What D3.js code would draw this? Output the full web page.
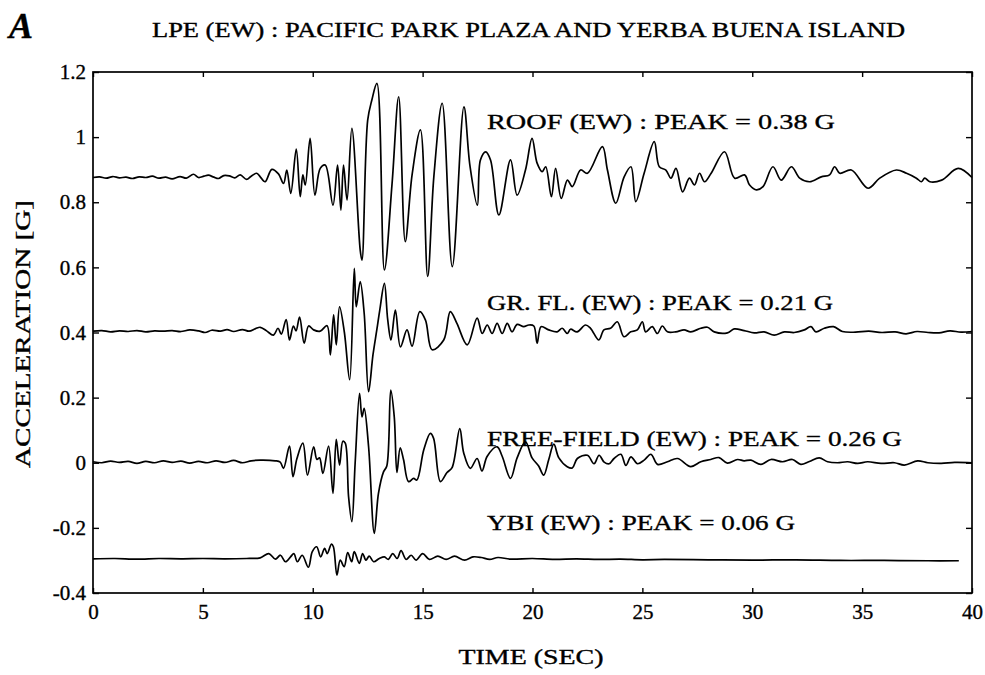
<!DOCTYPE html>
<html>
<head>
<meta charset="utf-8">
<script src="https://cdn.jsdelivr.net/npm/d3@7"></script>
<style>
  body { margin: 0; background: #fff; }
  svg { font-family: "Liberation Serif", "Times New Roman", serif; }
  svg text { stroke: #000; stroke-width: 0.35px; }
</style>
</head>
<body>
<div id="chart-area"></div>
<script>
// time (s), acceleration (G), each trace drawn at its own offset
const roof = [
  [0,0.876],[0.3,0.878],[0.6,0.874],[0.9,0.879],[1.2,0.875],[1.5,0.877],[1.8,0.873],[2.1,0.878],
  [2.4,0.876],[2.7,0.880],[3.0,0.874],[3.3,0.877],[3.6,0.872],[3.96,0.879],[4.25,0.874],[4.57,0.886],
  [4.8,0.876],[5.05,0.880],[5.25,0.883],[5.5,0.877],[5.71,0.873],[5.95,0.882],[6.2,0.881],[6.45,0.875],
  [6.7,0.884],[6.99,0.870],[7.2,0.880],[7.45,0.889],[7.61,0.878],[7.83,0.863],[8.14,0.901],[8.44,0.887],
  [8.67,0.858],[8.82,0.899],[9.0,0.827],[9.25,0.963],[9.43,0.817],[9.55,0.884],[9.66,0.853],[9.88,0.996],
  [10.1,0.822],[10.34,0.904],[10.57,0.914],[10.92,0.791],[11.13,0.914],[11.28,0.776],[11.4,0.914],[11.56,0.807],
  [11.78,1.027],[12.16,0.653],[12.24,0.622],[12.5,1.052],[12.69,1.114],[12.92,1.165],[13.26,0.592],[13.61,0.858],
  [13.91,1.124],[14.21,0.679],[14.52,0.884],[14.9,1.022],[15.23,0.572],[15.51,0.878],[15.89,1.104],[16.35,0.602],
  [16.88,1.093],[17.15,0.914],[17.49,0.791],[17.63,0.930],[17.87,0.955],[18.09,0.930],[18.47,0.761],[19.0,0.930],
  [19.3,0.822],[19.68,0.899],[19.98,0.996],[20.21,0.920],[20.44,0.894],[20.6,0.909],[20.86,0.817],[21.05,0.904],
  [21.31,0.812],[21.59,0.868],[21.81,0.848],[22.19,0.899],[22.5,0.889],[23.18,0.971],[23.41,0.899],[23.79,0.797],
  [24.17,0.878],[24.48,0.909],[24.7,0.802],[25.08,0.889],[25.54,0.986],[25.77,0.909],[26.07,0.899],[26.3,0.874],
  [26.53,0.904],[26.83,0.832],[27.14,0.874],[27.37,0.853],[27.6,0.889],[27.83,0.863],[28.13,0.889],[28.74,0.955],
  [29.2,0.874],[29.65,0.884],[29.88,0.853],[30.19,0.838],[30.49,0.848],[30.94,0.909],[31.32,0.868],[31.78,0.909],
  [32.16,0.874],[32.61,0.863],[33.14,0.878],[33.52,0.884],[33.75,0.909],[33.98,0.889],[34.51,0.899],[35.27,0.843],
  [35.8,0.874],[36.56,0.899],[37.02,0.889],[37.47,0.874],[37.7,0.863],[37.85,0.874],[38.08,0.863],[38.62,0.868],
  [39.37,0.904],[40,0.876]
];

const groundFloor = [
  [0,0.404],[0.4,0.406],[0.8,0.402],[1.2,0.405],[1.6,0.403],[2.0,0.406],[2.4,0.402],[2.8,0.405],
  [3.2,0.404],[3.6,0.406],[4.0,0.403],[4.4,0.408],[4.8,0.405],[5.1,0.400],[5.4,0.407],[5.8,0.404],
  [6.1,0.409],[6.4,0.403],[6.8,0.409],[7.1,0.404],[7.4,0.412],[7.61,0.416],[7.9,0.405],[8.21,0.392],
  [8.42,0.413],[8.57,0.395],[8.79,0.440],[8.94,0.377],[9.12,0.420],[9.24,0.405],[9.40,0.447],[9.61,0.367],
  [9.81,0.420],[10.04,0.408],[10.34,0.404],[10.65,0.421],[10.8,0.331],[10.95,0.454],[11.07,0.362],[11.22,0.479],
  [11.44,0.400],[11.68,0.255],[11.89,0.597],[11.98,0.479],[12.16,0.556],[12.34,0.459],[12.54,0.218],[12.74,0.331],
  [12.92,0.410],[13.05,0.469],[13.26,0.551],[13.41,0.440],[13.56,0.377],[13.76,0.469],[13.99,0.356],[14.29,0.408],
  [14.52,0.358],[14.87,0.464],[15.13,0.438],[15.43,0.347],[15.96,0.377],[16.26,0.464],[16.56,0.428],[17.03,0.362],
  [17.48,0.444],[17.71,0.397],[17.94,0.423],[18.16,0.397],[18.39,0.428],[18.62,0.397],[18.85,0.428],[19.07,0.402],
  [19.3,0.425],[19.6,0.418],[19.83,0.423],[20.06,0.420],[20.21,0.367],[20.39,0.418],[20.74,0.408],[21.12,0.402],
  [21.35,0.413],[21.58,0.397],[21.73,0.410],[22.03,0.402],[22.41,0.423],[22.64,0.413],[23.02,0.377],[23.25,0.408],
  [23.55,0.413],[23.86,0.433],[24.16,0.387],[24.47,0.402],[24.77,0.408],[25.0,0.433],[25.15,0.402],[25.45,0.418],
  [25.68,0.397],[25.91,0.420],[26.14,0.402],[26.52,0.402],[26.9,0.408],[27.2,0.402],[27.66,0.413],[27.96,0.416],
  [28.27,0.402],[28.87,0.399],[29.18,0.411],[29.63,0.406],[30.09,0.399],[30.54,0.402],[31.0,0.392],[31.46,0.402],
  [31.91,0.400],[32.37,0.408],[32.67,0.418],[32.9,0.402],[33.28,0.413],[33.7,0.418],[34.1,0.403],[34.7,0.401],
  [35.3,0.404],[35.9,0.400],[36.5,0.402],[37.0,0.396],[37.5,0.403],[38.0,0.400],[38.5,0.399],[39.0,0.405],
  [39.5,0.401],[40,0.403]
];

const freeField = [
  [0,0.003],[0.4,0.000],[0.8,0.005],[1.2,0.001],[1.6,0.004],[2.0,-0.002],[2.4,0.004],[2.8,0.000],
  [3.2,0.006],[3.6,0.001],[4.0,0.005],[4.4,-0.001],[4.8,0.004],[5.2,0.000],[5.6,0.006],[6.0,0.001],
  [6.4,0.007],[6.8,0.000],[7.2,0.006],[7.61,0.008],[8.29,0.006],[8.52,0.002],[8.67,-0.017],[8.94,0.051],
  [9.1,-0.043],[9.28,0.013],[9.55,0.060],[9.76,-0.038],[10.04,0.049],[10.19,0.010],[10.31,0.015],[10.46,-0.033],
  [10.72,0.051],[10.92,-0.094],[11.07,0.072],[11.22,-0.007],[11.37,0.066],[11.48,0.060],[11.63,-0.104],[11.78,-0.181],
  [11.93,0.000],[12.13,0.213],[12.24,0.141],[12.34,0.167],[12.54,0.050],[12.8,-0.217],[12.99,-0.094],[13.22,-0.028],
  [13.37,-0.010],[13.55,0.223],[13.71,0.140],[13.83,-0.030],[13.98,0.046],[14.13,0.010],[14.36,-0.058],[14.59,-0.048],
  [14.74,-0.053],[15.05,0.039],[15.35,0.090],[15.5,0.075],[15.81,-0.058],[16.11,-0.030],[16.34,-0.015],[16.69,0.105],
  [16.87,0.030],[17.17,-0.017],[17.48,0.013],[17.7,-0.025],[17.94,0.020],[18.39,0.049],[18.62,0.020],[19.0,-0.048],
  [19.3,0.015],[19.68,0.064],[19.98,0.015],[20.28,-0.010],[20.51,-0.038],[20.74,0.010],[20.97,0.057],[21.2,0.015],
  [21.58,-0.012],[21.81,-0.016],[22.04,0.013],[22.5,0.023],[22.8,-0.003],[23.03,0.023],[23.26,0.002],[23.49,-0.003],
  [23.71,0.013],[24.02,0.026],[24.25,-0.008],[24.48,0.018],[24.78,-0.003],[25.08,0.008],[25.39,0.026],[25.69,-0.005],
  [26.14,0.003],[26.6,0.013],[27.2,-0.012],[27.66,0.003],[28.11,0.010],[28.49,0.016],[28.87,-0.001],[29.33,0.010],
  [29.63,0.006],[29.94,0.008],[30.39,-0.005],[30.85,0.010],[31.38,0.003],[31.83,0.010],[32.21,-0.005],[32.6,0.004],
  [33.05,0.015],[33.43,0.003],[33.88,0.000],[34.34,0.003],[34.8,-0.002],[35.25,0.003],[35.86,-0.002],[36.47,0.000],
  [36.92,-0.007],[37.53,0.006],[37.99,0.000],[38.6,-0.002],[39.21,0.001],[40,0.000]
];

const ybi = [
  [0,-0.295],[1,-0.294],[2,-0.296],[3,-0.294],[4,-0.295],[5,-0.294],[6,-0.295],[7,-0.294],
  [7.61,-0.292],[8.0,-0.279],[8.3,-0.296],[8.53,-0.284],[8.76,-0.304],[8.99,-0.289],[9.14,-0.279],[9.3,-0.304],
  [9.52,-0.284],[9.8,-0.321],[9.98,-0.273],[10.18,-0.258],[10.36,-0.289],[10.54,-0.263],[10.66,-0.279],[10.85,-0.250],
  [10.94,-0.258],[11.1,-0.345],[11.25,-0.299],[11.43,-0.319],[11.59,-0.276],[11.77,-0.304],[11.89,-0.273],[12.12,-0.309],
  [12.27,-0.279],[12.42,-0.299],[12.57,-0.287],[12.77,-0.304],[13.03,-0.294],[13.26,-0.289],[13.44,-0.297],[13.64,-0.279],
  [13.84,-0.294],[14.02,-0.270],[14.25,-0.297],[14.48,-0.284],[14.7,-0.299],[15.0,-0.279],[15.31,-0.297],[15.69,-0.287],
  [16.07,-0.297],[16.45,-0.287],[16.91,-0.299],[17.29,-0.289],[17.67,-0.291],[18.05,-0.297],[18.43,-0.291],[19,-0.296],
  [20,-0.294],[21,-0.297],[22,-0.295],[23,-0.297],[24,-0.296],[25,-0.298],[26,-0.297],[28,-0.298],
  [30,-0.299],[32,-0.298],[34,-0.300],[36,-0.300],[38,-0.301],[39.4,-0.301]
];

const traces = [roof, groundFloor, freeField, ybi];
const traceLabels = [
  "ROOF (EW) : PEAK = 0.38 G",
  "GR. FL. (EW) : PEAK = 0.21 G",
  "FREE-FIELD (EW) : PEAK = 0.26 G",
  "YBI (EW) : PEAK = 0.06 G"
];
const xTicks = [0, 5, 10, 15, 20, 25, 30, 35, 40];
const yTicks = [-0.4, -0.2, 0, 0.2, 0.4, 0.6, 0.8, 1, 1.2];

const width = 985, height = 675;
const margin = {left: 93, right: 13, top: 72, bottom: 82};

const svg = d3.select("#chart-area")
  .append("svg")
  .attr("width", width)
  .attr("height", height);

const x = d3.scaleLinear().domain([0, 40]).range([margin.left, width - margin.right]);
const y = d3.scaleLinear().domain([-0.4, 1.2]).range([height - margin.bottom, margin.top]);

const fmt = d => String(+d.toFixed(1));

// axes, ticks pointing in
svg.append("g")
  .attr("transform", `translate(0,${y(-0.4)})`)
  .call(d3.axisBottom(x).tickValues(xTicks).tickFormat(fmt).tickSizeInner(-5).tickSizeOuter(0).tickPadding(11))
  .call(g => g.select(".domain").remove());
svg.append("g")
  .attr("transform", `translate(0,${y(1.2)})`)
  .call(d3.axisTop(x).tickValues(xTicks).tickFormat("").tickSizeInner(-5).tickSizeOuter(0))
  .call(g => g.select(".domain").remove());
svg.append("g")
  .attr("transform", `translate(${x(0)},0)`)
  .call(d3.axisLeft(y).tickValues(yTicks).tickFormat(fmt).tickSizeInner(-6).tickSizeOuter(0).tickPadding(7))
  .call(g => g.select(".domain").remove());
svg.append("g")
  .attr("transform", `translate(${x(40)},0)`)
  .call(d3.axisRight(y).tickValues(yTicks).tickFormat("").tickSizeInner(-6).tickSizeOuter(0))
  .call(g => g.select(".domain").remove());

svg.selectAll(".tick line").attr("stroke", "#000").attr("stroke-width", 1.4);
svg.selectAll(".tick text")
  .attr("font-family", "Liberation Serif, serif")
  .attr("font-size", 21)
  .attr("fill", "#000");

// frame
svg.append("rect")
  .attr("x", x(0))
  .attr("y", y(1.2))
  .attr("width", x(40) - x(0))
  .attr("height", y(-0.4) - y(1.2))
  .attr("fill", "none")
  .attr("stroke", "#000")
  .attr("stroke-width", 1.7);

const line = d3.line()
  .curve(d3.curveCatmullRom.alpha(0.5))
  .x(d => x(d[0]))
  .y(d => y(d[1]));

svg.append("g")
  .selectAll("path")
  .data(traces)
  .join("path")
  .attr("d", line)
  .attr("fill", "none")
  .attr("stroke", "#000")
  .attr("stroke-width", 1.7)
  .attr("stroke-linejoin", "round");

// trace captions
const labelY = [129, 310, 446, 530];
const labelW = [348, 346, 415, 308];
svg.append("g")
  .selectAll("text")
  .data(traceLabels)
  .join("text")
  .attr("x", 487)
  .attr("y", (d, i) => labelY[i])
  .attr("font-size", 22)
  .attr("textLength", (d, i) => labelW[i])
  .attr("lengthAdjust", "spacingAndGlyphs")
  .text(d => d);

svg.append("text")
  .attr("x", 152)
  .attr("y", 37)
  .attr("font-size", 20)
  .attr("textLength", 753)
  .attr("lengthAdjust", "spacingAndGlyphs")
  .text("LPE (EW) : PACIFIC PARK PLAZA AND YERBA BUENA ISLAND");

svg.append("text")
  .attr("x", 9)
  .attr("y", 38)
  .attr("font-size", 36)
  .attr("font-style", "italic")
  .attr("font-weight", "bold")
  .text("A");

svg.append("text")
  .attr("x", 531)
  .attr("y", 664)
  .attr("text-anchor", "middle")
  .attr("font-size", 21)
  .attr("textLength", 145)
  .attr("lengthAdjust", "spacingAndGlyphs")
  .text("TIME (SEC)");

svg.append("text")
  .attr("transform", "translate(30,334) rotate(-90)")
  .attr("text-anchor", "middle")
  .attr("font-size", 21)
  .attr("textLength", 268)
  .attr("lengthAdjust", "spacingAndGlyphs")
  .text("ACCELERATION [G]");
</script>
</body>
</html>
